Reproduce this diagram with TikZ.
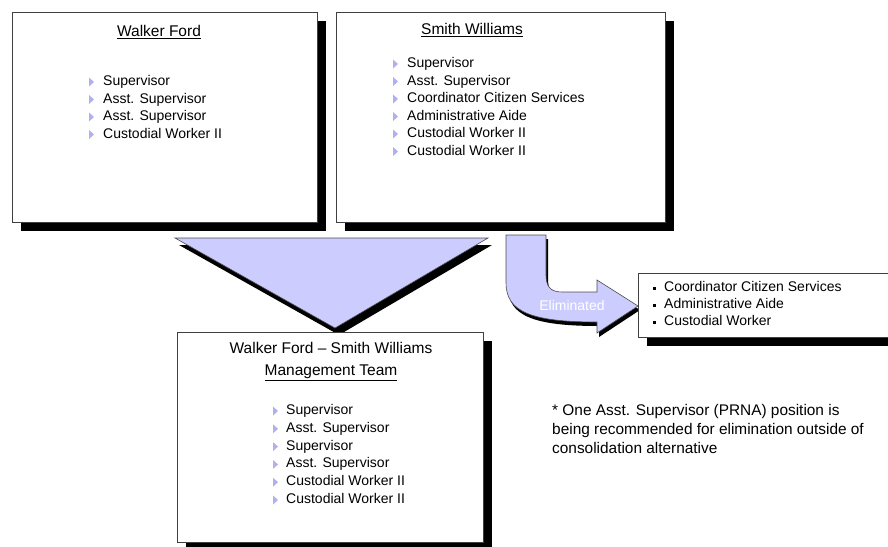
\documentclass[tikz,border=0pt]{standalone}
\usepackage{fontspec}
\setmainfont{Liberation Sans}
\usetikzlibrary{shadows,positioning,calc}
\definecolor{lav}{RGB}{204,204,255}
\definecolor{bulc}{RGB}{176,176,240}
\begin{document}
\begin{tikzpicture}
[x=1pt,y=-1pt,
box/.style={draw=black!75,fill=white,line width=.8pt,
  drop shadow={shadow xshift=9pt,shadow yshift=-9pt,opacity=1,fill=black}},
title/.style={inner sep=0,font=\fontsize{15.5}{19}\selectfont},
item/.style={anchor=west,inner sep=0,text height=10pt,text depth=3pt,
  font=\fontsize{14}{17}\selectfont},
bullet/.style={fill=bulc},
merge/.style={fill=lav,draw=black!70,line width=.6pt},
shade/.style={fill=black},
note/.style={anchor=north west,inner sep=0,align=left,font=\fontsize{15.4}{19}\selectfont}]
\path[use as bounding box,clip] (0,0) rectangle (888,546);
%%
% Walker Ford
%%
\node[box,minimum width=305,minimum height=210] (wf) at (164.5,117) {};
\node[title] (wft) at (159,32) {\underline{Walker Ford}};
\foreach \t [count=\i from 0] in {Supervisor,Asst. Supervisor,Asst. Supervisor,Custodial Worker II}{
\node[item] (wf\i) at (103,{82+17.5*\i}) {\t};
\fill[bullet] (wf\i.west) ++(-14,-4.5) -- ++(0,9) -- ++(5,-4.5) -- cycle;
}
%%
% Smith Williams
%%
\node[box,minimum width=329,minimum height=210] (sw) at (500.5,117) {};
\node[title] (swt) at (472,30) {\underline{Smith Williams}};
\foreach \t [count=\i from 0] in {Supervisor,Asst. Supervisor,Coordinator Citizen Services,Administrative Aide,Custodial Worker II,Custodial Worker II}{
\node[item] (sw\i) at (407,{64+17.5*\i}) {\t};
\fill[bullet] (sw\i.west) ++(-14,-4.5) -- ++(0,9) -- ++(5,-4.5) -- cycle;
}
%%
% merge triangle
%%
\coordinate (m1) at (175,238);
\coordinate (m2) at (488,238);
\coordinate (m3) at (335,328);
\fill[shade] ([shift={(4,7)}]m1) -- ([shift={(4,7)}]m2) -- ([shift={(4,7)}]m3) -- cycle;
\filldraw[merge] (m1) -- (m2) -- (m3) -- cycle;
%%
% Management Team
%%
\node[box,minimum width=306,minimum height=210] (mt) at (330,437) {};
\node[title] (mtt) at (331,348) {Walker Ford -- Smith Williams};
\node[title,below=11pt of mtt] (mtu) {\underline{Management Team}};
\foreach \t [count=\i from 0] in {Supervisor,Asst. Supervisor,Supervisor,Asst. Supervisor,Custodial Worker II,Custodial Worker II}{
\node[item] (mt\i) at (286,{411+17.8*\i}) {\t};
\fill[bullet] (mt\i.west) ++(-13,-4.5) -- ++(0,9) -- ++(5,-4.5) -- cycle;
}
%%
% eliminated
%%
\def\elimpath{(506,235) -- (506,283) .. controls (506,312) and (532,322) .. (597,322)
  -- (597,333) -- (638,306) -- (597,280) -- (597,292) -- (562,292)
  .. controls (550,292) and (546,286) .. (546,275) -- (546,235) -- cycle}
\fill[shade,xshift=2pt,yshift=-4pt] \elimpath;
\filldraw[merge] \elimpath;
\node[font=\fontsize{14}{14}\selectfont,text=white] (elim) at (572,305) {Eliminated};
\node[box,minimum width=262,minimum height=64] (el) at (769,305) {};
\foreach \t [count=\i from 0] in {Coordinator Citizen Services,Administrative Aide,Custodial Worker}{
\node[item] (el\i) at (664,{288+17*\i}) {\t};
\fill (el\i.west) ++(-11,-1.5) rectangle ++(3,3);
}
%%
% note
%%
\node[note] (nt) at (552,404) {* One Asst. Supervisor (PRNA) position is\\
being recommended for elimination outside of\\
consolidation alternative};
\end{tikzpicture}
\end{document}
